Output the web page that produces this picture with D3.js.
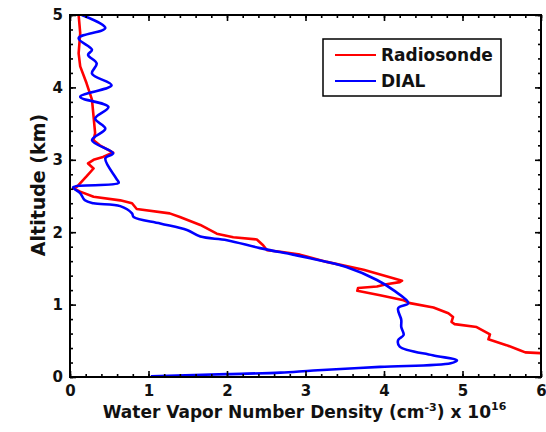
<!DOCTYPE html>
<html>
<head>
<meta charset="utf-8">
<script src="https://cdn.jsdelivr.net/npm/d3@7"></script>
<style>
  body { margin: 0; background: #fff; }
  svg text { font-family: "DejaVu Sans", sans-serif; font-weight: bold; fill: #111; }
</style>
</head>
<body>
<div id="chart"></div>
<script>
// radiosonde profile, top to bottom (km, 1e16 cm^-3)
const radiosondeAltitude = [5.00, 4.75, 4.47, 4.29, 4.06, 3.83, 3.60, 3.37, 3.27, 3.20, 3.10, 3.04, 3.00, 2.95, 2.88, 2.77, 2.63, 2.61,
    2.56, 2.49, 2.44, 2.40, 2.32, 2.26, 2.21, 2.10, 1.98, 1.93, 1.90, 1.82, 1.75, 1.73, 1.69, 1.59, 1.48, 1.39, 1.33, 1.31,
    1.28, 1.25, 1.23, 1.19, 1.13, 1.06, 1.02, 0.96, 0.88, 0.83, 0.76, 0.73, 0.69, 0.59, 0.52, 0.44, 0.37, 0.34, 0.33, 0.32];
const radiosondeDensity = [0.11, 0.13, 0.11, 0.13, 0.21, 0.28, 0.30, 0.32, 0.30, 0.38, 0.55, 0.42, 0.30, 0.23, 0.30, 0.21, 0.09, 0.04,
    0.13, 0.30, 0.64, 0.79, 0.85, 1.27, 1.40, 1.66, 1.87, 2.08, 2.38, 2.46, 2.51, 2.68, 2.93, 3.27, 3.74, 4.03, 4.23, 4.20,
    4.03, 3.91, 3.67, 3.66, 3.95, 4.25, 4.33, 4.63, 4.82, 4.88, 4.86, 4.90, 5.18, 5.35, 5.33, 5.56, 5.73, 5.80, 5.99, 6.05];

// DIAL profile
const dialAltitude = [5.00, 4.82, 4.68, 4.52, 4.45, 4.33, 4.19, 4.03, 3.87, 3.73, 3.57, 3.43, 3.27, 3.09, 3.02, 2.74, 2.68, 2.62,
    2.54, 2.44, 2.40, 2.36, 2.26, 2.21, 2.12, 2.03, 1.94, 1.89, 1.78, 1.69, 1.64, 1.52, 1.34, 1.20, 1.02, 0.95, 0.79, 0.69,
    0.58, 0.51, 0.42, 0.30, 0.23, 0.19, 0.14, 0.09, 0.06, 0.04, 0.01];
const dialDensity = [0.15, 0.45, 0.11, 0.28, 0.23, 0.34, 0.28, 0.53, 0.13, 0.49, 0.32, 0.45, 0.28, 0.55, 0.45, 0.59, 0.62, 0.04,
    0.13, 0.19, 0.30, 0.64, 0.79, 0.81, 1.15, 1.49, 1.66, 2.00, 2.42, 2.84, 3.06, 3.52, 3.91, 4.12, 4.31, 4.18, 4.22, 4.22,
    4.25, 4.18, 4.20, 4.62, 4.93, 4.85, 3.95, 3.10, 2.68, 2.00, 1.03];

const xTicks = [0, 1, 2, 3, 4, 5, 6];
const yTicks = [0, 1, 2, 3, 4, 5];
const seriesNames = ['Radiosonde', 'DIAL'];
const seriesColors = ['#ff0000', '#0000ff'];

const width = 546, height = 432;
const margin = {top: 15, right: 5, bottom: 55, left: 70};

const svg = d3.select('#chart').append('svg')
    .attr('width', width)
    .attr('height', height);

const x = d3.scaleLinear().domain([0, 6]).range([margin.left, width - margin.right]);
const y = d3.scaleLinear().domain([0, 5]).range([height - margin.bottom, margin.top]);

const minorX = d3.range(0, 6.001, 0.2);
const minorY = d3.range(0, 5.001, 0.2);

svg.append('defs').append('clipPath').attr('id', 'plotclip')
    .append('rect')
    .attr('x', x(0)).attr('y', y(5))
    .attr('width', x(6) - x(0)).attr('height', y(0) - y(5));

// profiles: sonde is jagged, lidar is smooth
const series = [
    radiosondeDensity.map((v, i) => [v, radiosondeAltitude[i]]),
    dialDensity.map((v, i) => [v, dialAltitude[i]])
];
const curves = [d3.curveLinear, d3.curveCatmullRom.alpha(0.5)];

svg.append('g').attr('clip-path', 'url(#plotclip)')
    .selectAll('path')
    .data(series)
    .enter()
    .append('path')
    .attr('d', (d, i) => d3.line().curve(curves[i]).x(p => x(p[0])).y(p => y(p[1]))(d))
    .attr('fill', 'none')
    .attr('stroke', (d, i) => seriesColors[i])
    .attr('stroke-width', 2.6)
    .attr('stroke-linejoin', 'round');

// axes: ticks point inward on all four sides
function styleAxis(g) {
    g.select('.domain').remove();
    g.selectAll('line').attr('stroke', '#000').attr('stroke-width', 1.6);
}

svg.append('g')
    .attr('transform', `translate(0,${y(0)})`)
    .call(d3.axisBottom(x).tickValues(minorX).tickSize(-3).tickFormat(''))
    .call(styleAxis);
svg.append('g')
    .attr('transform', `translate(0,${y(5)})`)
    .call(d3.axisTop(x).tickValues(minorX).tickSize(-3).tickFormat(''))
    .call(styleAxis);
svg.append('g')
    .attr('transform', `translate(${x(0)},0)`)
    .call(d3.axisLeft(y).tickValues(minorY).tickSize(-3).tickFormat(''))
    .call(styleAxis);
svg.append('g')
    .attr('transform', `translate(${x(6)},0)`)
    .call(d3.axisRight(y).tickValues(minorY).tickSize(-3).tickFormat(''))
    .call(styleAxis);

const xAxis = svg.append('g')
    .attr('transform', `translate(0,${y(0)})`)
    .call(d3.axisBottom(x).tickValues(xTicks).tickSize(-6).tickPadding(8).tickFormat(d3.format('d')))
    .call(styleAxis);
svg.append('g')
    .attr('transform', `translate(0,${y(5)})`)
    .call(d3.axisTop(x).tickValues(xTicks).tickSize(-6).tickFormat(''))
    .call(styleAxis);
const yAxis = svg.append('g')
    .attr('transform', `translate(${x(0)},0)`)
    .call(d3.axisLeft(y).tickValues(yTicks).tickSize(-6).tickPadding(7).tickFormat(d3.format('d')))
    .call(styleAxis);
svg.append('g')
    .attr('transform', `translate(${x(6)},0)`)
    .call(d3.axisRight(y).tickValues(yTicks).tickSize(-6).tickFormat(''))
    .call(styleAxis);

[xAxis, yAxis].forEach(g => g.selectAll('text')
    .attr('fill', '#111')
    .style('font-family', '"DejaVu Sans", sans-serif')
    .style('font-weight', 'bold')
    .style('font-size', '15px'));

// frame
svg.append('rect')
    .attr('x', x(0)).attr('y', y(5))
    .attr('width', x(6) - x(0)).attr('height', y(0) - y(5))
    .attr('fill', 'none')
    .attr('stroke', '#000')
    .attr('stroke-width', 2);

// axis titles
const xTitle = svg.append('text')
    .attr('x', (x(0) + x(6)) / 2 - 1)
    .attr('y', 418)
    .attr('text-anchor', 'middle')
    .style('font-size', '17px');
xTitle.append('tspan').text('Water Vapor Number Density (cm');
xTitle.append('tspan').attr('dy', -7).style('font-size', '11px').text('-3');
xTitle.append('tspan').attr('dy', 7).text(') x 10');
xTitle.append('tspan').attr('dy', -8).style('font-size', '11px').text('16');

svg.append('text')
    .attr('transform', `translate(45,${(y(0) + y(5)) / 2 - 11}) rotate(-90)`)
    .attr('text-anchor', 'middle')
    .style('font-size', '19px')
    .text('Altitude (km)');

// legend
const legend = svg.append('g').attr('transform', 'translate(323,39)');
legend.append('rect')
    .attr('width', 178).attr('height', 57)
    .attr('fill', '#fff')
    .attr('stroke', '#000')
    .attr('stroke-width', 1.5);
const items = legend.selectAll('g.item')
    .data(seriesNames)
    .enter()
    .append('g')
    .attr('class', 'item')
    .attr('transform', (d, i) => `translate(0,${16 + i * 26})`);
items.append('line')
    .attr('x1', 12).attr('x2', 53)
    .attr('stroke', (d, i) => seriesColors[i])
    .attr('stroke-width', 2);
items.append('text')
    .attr('x', 58)
    .attr('dy', '0.36em')
    .style('font-size', '17px')
    .text(d => d);
</script>
</body>
</html>
